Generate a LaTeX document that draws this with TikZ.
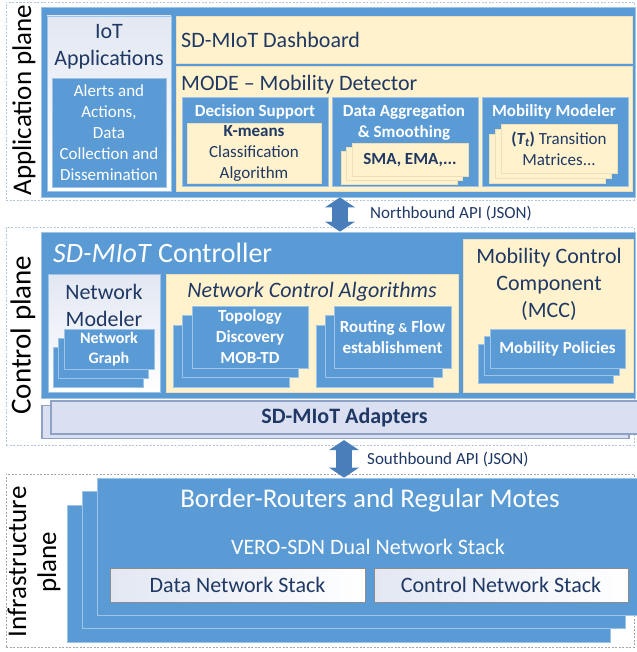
\documentclass[tikz,border=0pt]{standalone}
\usepackage{fontspec}
\setmainfont{Carlito}
\usetikzlibrary{arrows.meta,shadows}

\definecolor{mblue}{HTML}{5B9BD5}
\definecolor{medge}{HTML}{9DC3E6}
\definecolor{mbeige}{HTML}{FFF2CC}
\definecolor{bedge}{HTML}{EDE0B8}
\definecolor{navy}{HTML}{1F3864}
\definecolor{adfill}{HTML}{DAE0F2}
\definecolor{adedge}{HTML}{8EA3C4}
\definecolor{apiblue}{HTML}{4A7EBB}
\definecolor{dashblue}{HTML}{B4C4DE}
\definecolor{gradtop}{HTML}{E2E7F2}

\begin{document}
\begin{tikzpicture}[
    x=1pt, y=-1pt,
    plane/.style={draw=dashblue, dash pattern=on 2pt off 1.5pt, line width=0.6pt, inner sep=0pt},
    bluebox/.style={fill=mblue, draw=medge, line width=0.8pt, inner sep=0pt},
    beigebox/.style={fill=mbeige, draw=bedge, line width=0.8pt, inner sep=0pt},
    whitebox/.style={top color=gradtop, bottom color=white, draw=medge, line width=0.8pt, inner sep=0pt},
    stackbox/.style={fill=adfill, draw=adedge, line width=1.2pt, inner sep=0pt},
    netstack/.style={left color=gradtop, right color=white, draw=black!45, line width=0.8pt, inner sep=0pt},
    pages/.style 2 args={double copy shadow={shadow xshift=#1, shadow yshift=#2}},
    planelbl/.style={font=\fontsize{27}{30}\selectfont, align=center, inner sep=0pt, rotate=90},
    ttl/.style={font=\fontsize{22}{27}\selectfont, text=navy, align=center, inner sep=0pt},
    wttl/.style={font=\fontsize{22}{27}\selectfont, text=white, align=center, inner sep=0pt},
    sub/.style={font=\bfseries\fontsize{17}{21}\selectfont, text=white, align=center},
    subtxt/.style={font=\fontsize{17}{21}\selectfont, text=navy, align=center},
    apitxt/.style={font=\fontsize{17}{20}\selectfont, text=navy, inner sep=0pt},
    api/.style={draw=apiblue, line width=16pt,
        {Triangle[length=10pt,width=30pt,line width=0pt]}-{Triangle[length=10pt,width=30pt,line width=0pt]}}
]
\useasboundingbox (0,0) rectangle (636,652);

\coordinate (nbx) at (340,0);
\coordinate (sbx) at (344,0);

% planes
\node[plane, minimum width=628, minimum height=198] (appplane)   at (320,101)   {};
\node[plane, minimum width=628, minimum height=218] (ctrlplane)  at (320,336)   {};
\node[plane, draw=black!35, minimum width=628, minimum height=173] (infraplane) at (320,560.5) {};

\node[planelbl] (applbl)   at (24,100) {Application plane};
\node[planelbl, font=\fontsize{29}{32}\selectfont] (ctrllbl) at (23,335) {Control plane};
\node[planelbl] (infralbl) at (34,562) {Infrastructure\\plane};

% application plane
\node[bluebox, minimum width=594, minimum height=190] (appbox) at (338,102) {};
\node[whitebox, minimum width=124, minimum height=175] (iotbox) at (109,103.5) {};
\node[ttl] (iottitle) at (109,47) {IoT\\Applications};
\node[bluebox, minimum width=114, minimum height=109, font=\fontsize{17}{21}\selectfont,
      text=white, align=center] (alertbox) at (109,132.5)
      {Alerts and\\Actions,\\Data\\Collection and\\Dissemination};

\node[beigebox, minimum width=456, minimum height=47] (dashbox) at (404,39.5) {};
\node[ttl, anchor=west] (dashtxt) at (181,40) {SD-MIoT Dashboard};

\node[beigebox, minimum width=456, minimum height=125] (modebox) at (404,128.5) {};
\node[ttl, anchor=west] (modetxt) at (181,85) {MODE -- Mobility Detector};

\node[bluebox, minimum width=146, minimum height=89] (decbox) at (255,141.5) {};
\node[sub, inner sep=0pt] (dectxt) at (255,112) {Decision Support};
\node[beigebox, minimum width=134, minimum height=60, subtxt] (kmeans) at (254,153)
      {\textbf{K-means}\\Classification\\Algorithm};

\node[bluebox, minimum width=146, minimum height=89] (aggbox) at (405,141.5) {};
\node[sub, inner sep=0pt] (aggtxt) at (404,122.5) {Data Aggregation\\\& Smoothing};
\node[beigebox, pages={-5.5pt}{-4pt}, minimum width=116, minimum height=33, subtxt,
      font=\bfseries\fontsize{17}{21}\selectfont] (smabox) at (410,160) {SMA, EMA,...};

\node[bluebox, minimum width=146, minimum height=89] (mobbox) at (555,141.5) {};
\node[sub, inner sep=0pt] (mobtxt) at (554,112) {Mobility Modeler};
\node[beigebox, pages={-6pt}{-5pt}, minimum width=116, minimum height=49, subtxt] (transbox) at (559,148.5)
      {\textbf{(\textit{T\textsubscript{t}})} Transition\\Matrices...};

% control plane
\node[bluebox, minimum width=594, minimum height=166] (ctrlbox) at (338,315) {};
\node[font=\fontsize{28}{32}\selectfont, text=white, anchor=west, inner sep=0pt] (ctrltxt)
      at (53,253) {\textit{SD-MIoT} Controller};

\node[whitebox, minimum width=112, minimum height=118] (netmod) at (104,333) {};
\node[ttl] (netmodtxt) at (104,305) {Network\\Modeler};
\node[bluebox, pages={-5.5pt}{-9pt}, minimum width=90, minimum height=40, sub,
      font=\bfseries\fontsize{16}{20}\selectfont] (graphbox) at (109,349) {Network\\Graph};

\node[beigebox, minimum width=292, minimum height=118] (ncabox) at (312,333) {};
\node[ttl] (ncatxt) at (312,292) {\textit{Network Control Algorithms}};
\node[bluebox, pages={-9.5pt}{-9.5pt}, minimum width=116, minimum height=62, sub] (topobox)
      at (250,337) {Topology\\Discovery\\MOB-TD};
\node[bluebox, pages={-9pt}{-9.5pt}, minimum width=117, minimum height=62, sub] (routebox)
      at (392.5,337) {Routing {\fontsize{13}{21}\selectfont\&} Flow\\establishment};

\node[beigebox, minimum width=170, minimum height=153] (mccbox) at (548,315.5) {};
\node[ttl] (mcctxt) at (549,284) {Mobility Control\\Component\\(MCC)};
\node[bluebox, pages={-6pt}{-7.5pt}, minimum width=135, minimum height=39, sub] (polbox)
      at (557.5,348.5) {Mobility Policies};

\node[stackbox, copy shadow={shadow xshift=-9pt, shadow yshift=-4.5pt}, minimum width=587,
      minimum height=33, text=navy, font=\bfseries\fontsize{22}{25}\selectfont] (adapter)
      at (344.5,417.5) {SD-MIoT Adapters};

% infrastructure plane
\node[bluebox, pages={-15pt}{-13.5pt}, minimum width=543, minimum height=137] (infrabox)
      at (368.5,546.5) {};
\node[wttl, font=\fontsize{27}{30}\selectfont] (bordertxt) at (370,500) {Border-Routers and Regular Motes};
\node[wttl] (verotxt) at (368,547) {VERO-SDN Dual Network Stack};
\node[netstack, minimum width=255, minimum height=34, ttl] (datastack) at (237.5,585) {Data Network Stack};
\node[netstack, minimum width=254, minimum height=34, ttl] (ctlstack)  at (501,585)   {Control Network Stack};

% Edges
\draw[api] (appbox.south -| nbx) -- (ctrlbox.north -| nbx);
\node[apitxt, anchor=west] (nbtxt) at (370,213) {Northbound API (JSON)};

\draw[api] ([yshift=-5.5pt]adapter.south -| sbx) -- (infrabox.north -| sbx);
\node[apitxt, anchor=west] (sbtxt) at (367,459) {Southbound API (JSON)};

\end{tikzpicture}
\end{document}
